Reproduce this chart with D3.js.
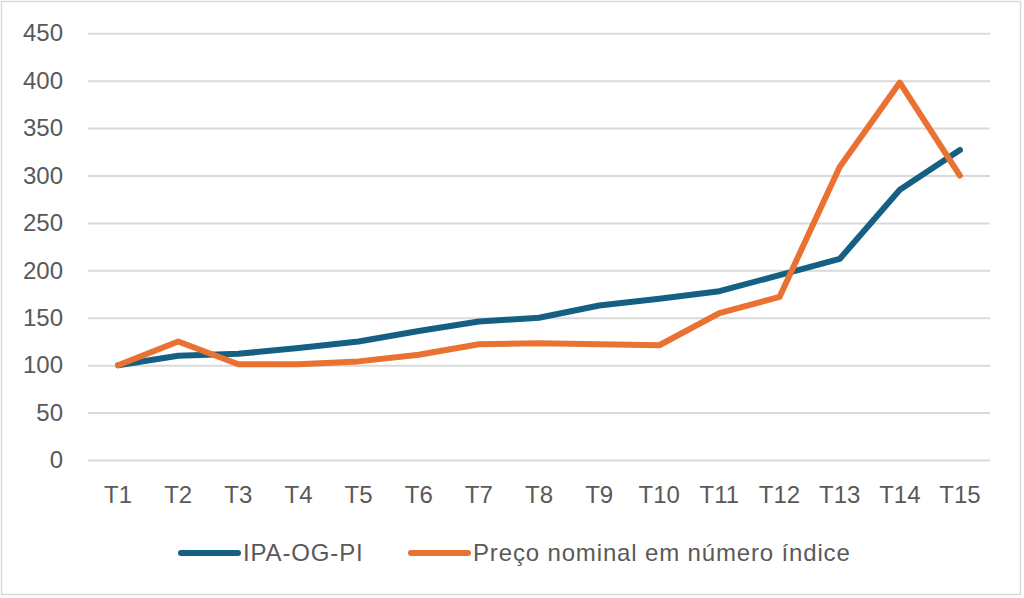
<!DOCTYPE html>
<html><head><meta charset="utf-8">
<script src="https://cdn.jsdelivr.net/npm/d3@7"></script>
<style>html,body{margin:0;padding:0;background:#fff;}svg{display:block;}</style>
</head><body>
<script>
const categories = ["T1","T2","T3","T4","T5","T6","T7","T8","T9","T10","T11","T12","T13","T14","T15"];
const ipaValues = [100,110,112,118,125,136,146,150,163,170,178,195,212,285,327];
const precoValues = [100,125,101,101,104,111,122,123,122,121,155,172,309,398,300];
const yTicks = [0,50,100,150,200,250,300,350,400,450];
const seriesNames = ["IPA-OG-PI","Preço nominal em número índice"];
const colors = ["#156082","#E97132"];

(function(){
const W=1024,H=598;
const svg=d3.select("body").append("svg").attr("width",W).attr("height",H);
svg.append("rect").attr("x",1.5).attr("y",1.5).attr("width",1019).attr("height",593)
  .attr("fill","#fff").attr("stroke","#d9d9d9").attr("stroke-width",1.5);

const pLeft=88,pRight=990,pTop=33.3,pBottom=460;
const x=d3.scaleBand().domain(categories).range([pLeft,pRight]);
const y=d3.scaleLinear().domain([0,450]).range([pBottom,pTop]);
const font="'Liberation Sans', Arial, sans-serif";
const fs="24px";

const yAxis=svg.append("g").attr("transform",`translate(${pLeft},0)`)
  .call(d3.axisLeft(y).tickValues(yTicks).tickSize(-(pRight-pLeft)).tickPadding(25));
yAxis.select(".domain").remove();
yAxis.selectAll(".tick line").attr("stroke","#d9d9d9").attr("stroke-width",2);
yAxis.selectAll(".tick text").attr("fill","#595959").attr("font-size",fs).attr("font-family",font);

const xAxis=svg.append("g").attr("transform",`translate(0,${pBottom})`)
  .call(d3.axisBottom(x).tickSize(0).tickPadding(26));
xAxis.select(".domain").remove();
xAxis.selectAll(".tick text").attr("fill","#595959").attr("font-size",fs).attr("font-family",font);

const line=d3.line().x((d,i)=>x(categories[i])+x.bandwidth()/2).y(d=>y(d));
[ipaValues,precoValues].forEach((vals,k)=>{
  svg.append("path").datum(vals).attr("d",line).attr("fill","none")
    .attr("stroke",colors[k]).attr("stroke-width",6)
    .attr("stroke-linejoin","round").attr("stroke-linecap","round");
});

const legendY=553;
const legendPos=[181,411];
seriesNames.forEach((n,k)=>{
  const g=svg.append("g").attr("transform",`translate(${legendPos[k]},${legendY})`);
  g.append("line").attr("x1",0).attr("x2",57).attr("stroke",colors[k]).attr("stroke-width",6).attr("stroke-linecap","round");
  g.append("text").attr("x",62).attr("y",0).attr("dy","0.35em").attr("fill","#595959")
    .attr("font-size",fs).attr("font-family",font).attr("letter-spacing","0.85px").text(n);
});
})();
</script>
</body></html>
